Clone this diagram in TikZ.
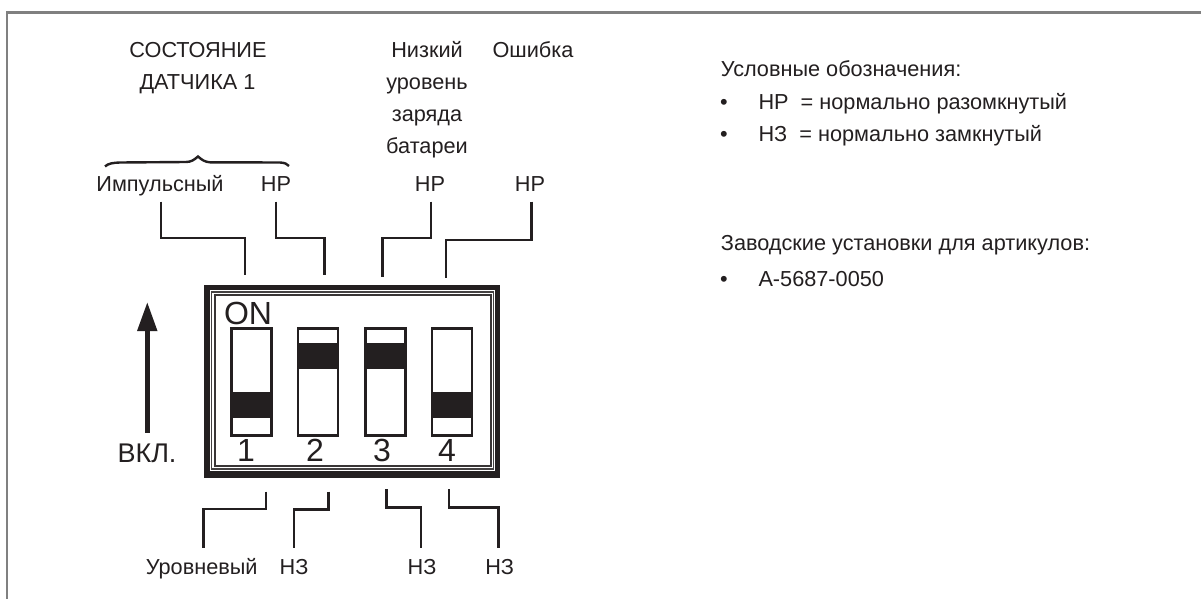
\documentclass[tikz,border=0pt]{standalone}
\usepackage{fontspec}
\setmainfont{Liberation Sans}
\definecolor{ink}{HTML}{231F20}
\definecolor{framegrey}{HTML}{808080}
\tikzset{
  lbl/.style={inner sep=0pt,text=ink,font=\fontsize{21.7}{21.7}\selectfont,anchor=base},
  lblw/.style={lbl,anchor=base west},
  conn/.style={draw=ink,line width=2.7pt,line cap=butt,line join=miter},
  switchbox/.style={draw=ink,line width=2.5pt,fill=white,minimum width=40pt,minimum height=107pt,inner sep=0pt,anchor=north west},
  lever/.style={fill=ink,draw=none},
  digit/.style={inner sep=0pt,text=ink,font=\fontsize{32}{32}\selectfont,anchor=base},
}
\begin{document}
\begin{tikzpicture}[x=1pt,y=-1pt]
\useasboundingbox (0,0) rectangle (1201,599);
\fill[white] (0,0) rectangle (1201,599);
% frame
\draw[framegrey,line width=2.6pt] (7,599) -- (7,12.5) -- (1201,12.5);
% titles
\node[lbl] (t1) at (198,57.7) {СОСТОЯНИЕ};
\node[lbl] (t2) at (197.5,89.7) {ДАТЧИКА 1};
\node[lbl] (t3) at (427,57.7) {Низкий};
\node[lbl] (t4) at (427,89.7) {уровень};
\node[lbl] (t5) at (427,121.5) {заряда};
\node[lbl] (t6) at (427,153.5) {батареи};
\node[lbl] (t7) at (533,57.7) {Ошибка};
% brace
\draw[ink,line width=2.4pt] (105,166.5) .. controls (108,163.5) and (113,162.7) .. (120,162.5) -- (186,162) .. controls (191,162) and (194,160) .. (198,156.5) .. controls (202,160) and (205,162) .. (210,162.3) -- (280,162.5) .. controls (285,162.7) and (287,164) .. (289,166);
% top labels
\node[lbl] (a1) at (160,191.7) {Импульсный};
\node[lbl] (a2) at (276,191.7) {НР};
\node[lbl] (a3) at (430,191.7) {НР};
\node[lbl] (a4) at (530,191.7) {НР};
\coordinate (c1) at (245,274.5);
\coordinate (c2) at (324.3,275);
\coordinate (c3) at (382.7,277);
\coordinate (c4) at (446,278);
\draw[conn] (161,201.5) |- (c1 |- 0,238) -- (c1);
\draw[conn] (276,201.5) |- (c2 |- 0,238) -- (c2);
\draw[conn] (431,201.5) |- (c3 |- 0,238) -- (c3);
\draw[conn] (531.7,201.5) |- (c4 |- 0,240) -- (c4);
% DIP body
\fill[ink] (204,285) rectangle (500,477.7);
\fill[white] (209.5,289.7) rectangle (495,471);
\draw[ink!85,line width=1.4pt] (211.2,291.8) rectangle (493.7,469);
\draw[ink!90,line width=1.5pt] (214.8,295.2) rectangle (490.8,465.8);
% switches
\node[switchbox] (s1) at (230,327.3) {};
\node[switchbox] (s2) at (296.7,327.3) {};
\node[switchbox] (s3) at (364,327.3) {};
\node[switchbox] (s4) at (430.7,327.3) {};
\fill[lever] (230,392.3) rectangle (270,418.3);
\fill[lever] (296.7,342.7) rectangle (336.7,368.7);
\fill[lever] (364,342.7) rectangle (404,368.7);
\fill[lever] (430.7,392.3) rectangle (470.7,418.3);
\node[digit] (on) at (248,324.3) {ON};
\node[digit] (d1) at (246,461.7) {1};
\node[digit] (d2) at (315,461.7) {2};
\node[digit] (d3) at (382,461.7) {3};
\node[digit] (d4) at (447,461.7) {4};
% arrow
\coordinate (up0) at (147.3,432.7);
\coordinate (up1) at (147.3,330);
\draw[ink,line width=5.4pt] (up0) -- (up1);
\fill[ink] (147.3,302.7) -- (157.5,331) -- (137,331) -- cycle;
\node[lbl,font=\fontsize{27}{27}\selectfont] (vkl) at (147,462.7) {ВКЛ.};
% bottom connectors
\coordinate (b1) at (203.3,548.3);
\coordinate (b2) at (294,548.3);
\coordinate (b3) at (421,548.3);
\coordinate (b4) at (498.7,548.3);
\draw[conn] (266,491.5) |- (b1 |- 0,509) -- (b1);
\draw[conn] (328.3,491.5) |- (b2 |- 0,509.3) -- (b2);
\draw[conn] (386.3,489.3) |- (b3 |- 0,507.3) -- (b3);
\draw[conn] (449,489.3) |- (b4 |- 0,507.3) -- (b4);
\node[lbl] (u1) at (201.7,574.7) {Уровневый};
\node[lbl] (u2) at (294,574.7) {НЗ};
\node[lbl] (u3) at (422,574.7) {НЗ};
\node[lbl] (u4) at (499.7,574.7) {НЗ};
% legend
\node[lblw] (l1) at (720.7,76.7) {Условные обозначения:};
\node[lbl] (b1t) at (724,110) {•};
\node[lblw] (l2) at (758.3,110) {НР\ \ = нормально разомкнутый};
\node[lbl] (b2t) at (724,141.7) {•};
\node[lblw] (l3) at (758.3,141.7) {НЗ\ \ = нормально замкнутый};
\node[lblw] (l4) at (720.7,250) {Заводские установки для артикулов:};
\node[lbl] (b3t) at (724,286) {•};
\node[lblw] (l5) at (758.3,286) {А-5687-0050};
\end{tikzpicture}
\end{document}
